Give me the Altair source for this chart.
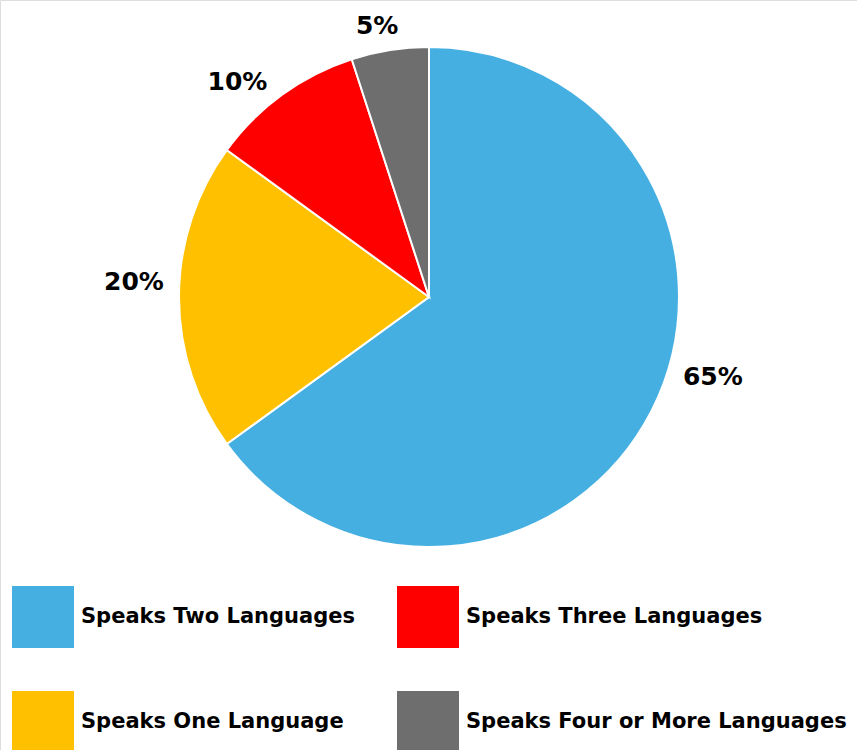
import altair as alt
import pandas as pd

categories = ["Speaks Two Languages", "Speaks One Language", "Speaks Three Languages", "Speaks Four or More Languages"]
shares = [65, 20, 10, 5]
labels = ["65%", "20%", "10%", "5%"]
colors = ["#46AFE2", "#FFC000", "#FF0000", "#6E6E6E"]

df = pd.DataFrame({"category": categories, "share": shares, "label": labels, "order": list(range(len(categories)))})

CX, CY, R = 429, 297, 250
FONT = "DejaVu Sans"

color = alt.Color(
    "category:N",
    scale=alt.Scale(domain=categories, range=colors),
    legend=alt.Legend(
        title=None, orient="none", legendX=12, legendY=586, columns=2,
        symbolType="square", symbolSize=3844, symbolStrokeWidth=0, symbolOpacity=1,
        labelFont=FONT, labelFontWeight="bold", labelFontSize=21, labelColor="black",
        labelOffset=7, labelLimit=600, rowPadding=43, columnPadding=42,
    ),
)

base = alt.Chart(df).encode(
    theta=alt.Theta("share:Q", stack=True),
    order=alt.Order("order:Q"),
)

pie = base.mark_arc(stroke="white", strokeWidth=2).encode(
    color=color, x=alt.value(CX), y=alt.value(CY), radius=alt.value(R)
)

# per-label nudges (styling only)
nudges = {"65%": (21, -54), "20%": (0, -15), "10%": (-27, 12), "5%": (-8, 6)}
radii = {"65%": 295, "20%": 295, "10%": 280, "5%": 280}

text_layers = []
for lab in labels:
    dx, dy = nudges[lab]
    t = base.mark_text(
        font=FONT, fontWeight="bold", fontSize=25, color="black", dx=dx, dy=dy
    ).encode(
        text="label:N", x=alt.value(CX), y=alt.value(CY), radius=alt.value(radii[lab]),
        opacity=alt.condition(alt.datum.label == lab, alt.value(1), alt.value(0)),
    )
    text_layers.append(t)

chart = alt.layer(pie, *text_layers).properties(
    width=857, height=750, autosize=alt.AutoSizeParams(type="none"), padding=0
).configure_view(stroke=None).configure(background="white")

chart.save("out.html", embed_options={"renderer": "svg", "actions": False})
